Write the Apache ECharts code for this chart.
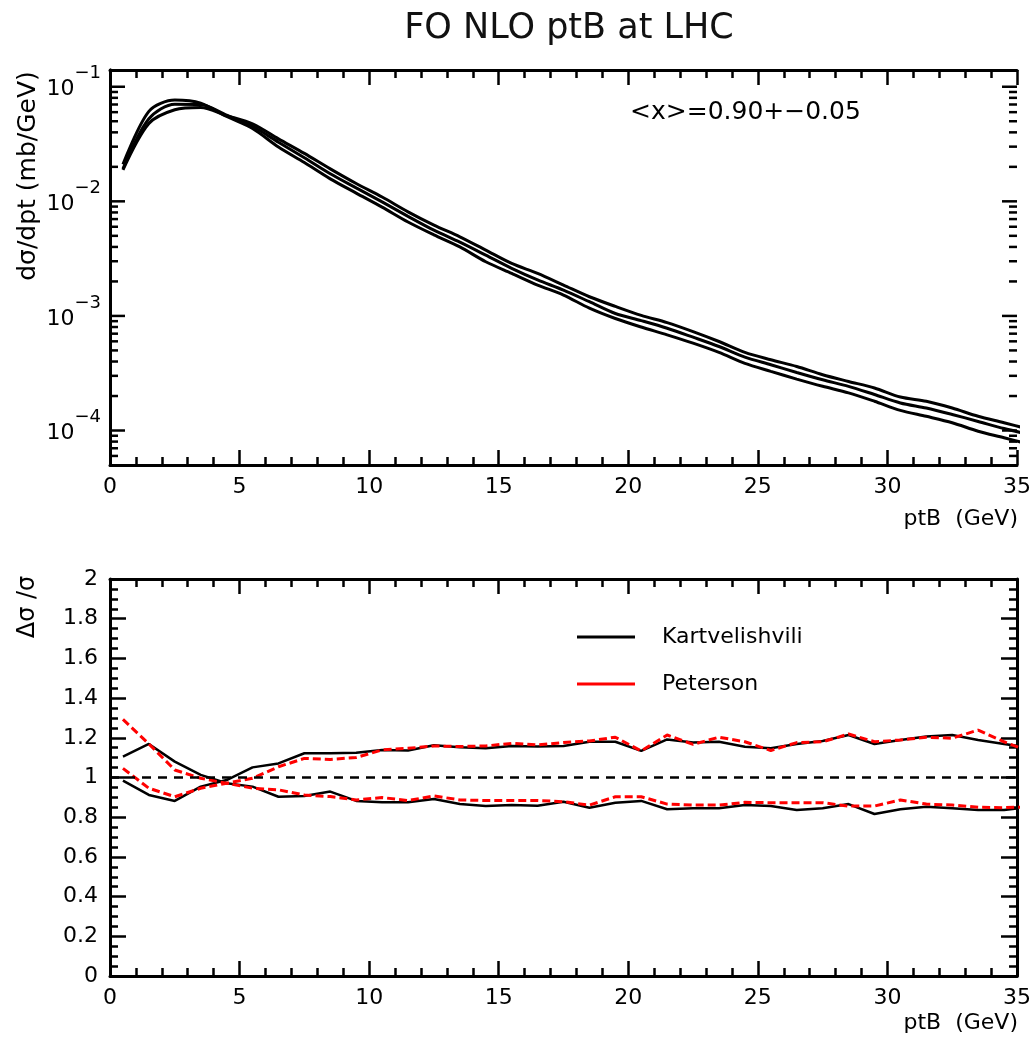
<!DOCTYPE html>
<html>
<head>
<meta charset="utf-8">
<script src="https://cdn.jsdelivr.net/npm/echarts@6/dist/echarts.min.js"></script>
<style>
  html, body { margin: 0; padding: 0; background: #fff; }
  #chart { width: 1034px; height: 1044px; }
</style>
</head>
<body>
<div id="chart"></div>
<script>
// bin centres in ptB (GeV)
const ptB = [0.5, 1.5, 2.5, 3.5, 4.5, 5.5, 6.5, 7.5, 8.5, 9.5, 10.5, 11.5, 12.5, 13.5, 14.5, 15.5, 16.5, 17.5,
  18.5, 19.5, 20.5, 21.5, 22.5, 23.5, 24.5, 25.5, 26.5, 27.5, 28.5, 29.5, 30.5, 31.5, 32.5, 33.5, 34.5, 35.5]

// dsigma/dpt (mb/GeV) for <x> = 0.85, 0.90, 0.95
const dsdptSoft = [0.0210, 0.0610, 0.0765, 0.0720, 0.0550, 0.0432, 0.0298, 0.0218, 0.0157, 0.0118, 0.0089, 0.0066,
  0.0051, 0.0040, 0.00297, 0.00235, 0.00186, 0.00152, 0.00117, 0.00095, 0.00080, 0.000684, 0.000578, 0.00048,
  0.000385, 0.000328, 0.000281, 0.000243, 0.000213, 0.00018, 0.000150, 0.000133, 0.000117, 0.0000986, 0.0000865, 0.0000755]
const dsdptCentral = [0.0192, 0.0525, 0.0705, 0.0700, 0.0565, 0.0452, 0.0328, 0.0240, 0.0174, 0.0131, 0.0099, 0.0074,
  0.0056, 0.0044, 0.00339, 0.00260, 0.00206, 0.00168, 0.00133, 0.00105, 0.00091, 0.000781, 0.000652, 0.000541,
  0.000437, 0.000375, 0.000321, 0.000277, 0.000243, 0.000206, 0.000174, 0.000157, 0.000138, 0.000120, 0.000104, 0.000092]
const dsdptHard = [0.0188, 0.0478, 0.0630, 0.0660, 0.0560, 0.0475, 0.0351, 0.0262, 0.0192, 0.0143, 0.0109, 0.0081,
  0.0062, 0.0049, 0.00375, 0.00287, 0.00235, 0.00186, 0.00147, 0.00121, 0.00101, 0.000875, 0.00073, 0.000598,
  0.00048, 0.000414, 0.000362, 0.000307, 0.000268, 0.000235, 0.000196, 0.00018, 0.000157, 0.000133, 0.000117, 0.000102]

// ratios to central
const ratioKartSoft = [1.105, 1.169, 1.080, 1.013, 0.971, 0.954, 0.903, 0.907, 0.929, 0.882, 0.875, 0.875, 0.892, 0.866,
  0.856, 0.861, 0.858, 0.878, 0.848, 0.873, 0.882, 0.840, 0.845, 0.845, 0.861, 0.856, 0.836, 0.845, 0.866, 0.816,
  0.840, 0.853, 0.845, 0.836, 0.836, 0.852]
const ratioKartHard = [0.984, 0.912, 0.882, 0.954, 0.987, 1.051, 1.071, 1.122, 1.122, 1.125, 1.139, 1.136, 1.162, 1.152,
  1.147, 1.159, 1.156, 1.159, 1.180, 1.180, 1.134, 1.192, 1.176, 1.180, 1.155, 1.147, 1.169, 1.184, 1.214, 1.169,
  1.189, 1.206, 1.214, 1.189, 1.169, 1.150]
const ratioPetSoft = [1.293, 1.169, 1.038, 0.996, 0.971, 0.946, 0.938, 0.912, 0.904, 0.887, 0.899, 0.884, 0.907, 0.887,
  0.884, 0.884, 0.884, 0.878, 0.861, 0.903, 0.903, 0.866, 0.861, 0.861, 0.875, 0.873, 0.873, 0.873, 0.856, 0.856,
  0.887, 0.866, 0.861, 0.850, 0.848, 0.852]
const ratioPetHard = [1.046, 0.946, 0.903, 0.946, 0.971, 0.996, 1.054, 1.096, 1.091, 1.101, 1.139, 1.147, 1.159, 1.156,
  1.159, 1.172, 1.164, 1.176, 1.184, 1.203, 1.134, 1.214, 1.167, 1.203, 1.180, 1.136, 1.176, 1.180, 1.219, 1.180,
  1.189, 1.203, 1.198, 1.239, 1.180, 1.130]

// log axis tick values
const logMajorTicks = [1e-4, 1e-3, 1e-2, 1e-1]
const logMinorTicks = [6e-5, 7e-5, 8e-5, 9e-5,
  2e-4, 3e-4, 4e-4, 5e-4, 6e-4, 7e-4, 8e-4, 9e-4,
  2e-3, 3e-3, 4e-3, 5e-3, 6e-3, 7e-3, 8e-3, 9e-3,
  2e-2, 3e-2, 4e-2, 5e-2, 6e-2, 7e-2, 8e-2, 9e-2]

const FONT = 'DejaVu Sans'
const pairs = (ys) => ptB.map((x, i) => [x, ys[i]])

const tickRenderer = (len) => (params, api) => {
  const y = api.coord([0, api.value(1)])[1]
  const cs = params.coordSys
  const st = { stroke: '#000', lineWidth: 2.5 }
  return {
    type: 'group',
    children: [
      { type: 'line', shape: { x1: cs.x, y1: y, x2: cs.x + len, y2: y }, style: st },
      { type: 'line', shape: { x1: cs.x + cs.width - len, y1: y, x2: cs.x + cs.width, y2: y }, style: st }
    ]
  }
}

const xAxisBase = (grid, pos, showLabel) => ({
  gridIndex: grid, type: 'value', position: pos, min: 0, max: 35, interval: 5,
  axisLine: { onZero: false, lineStyle: { color: '#000', width: 3 } },
  axisTick: { inside: true, length: 15, lineStyle: { color: '#000', width: 2.5 } },
  minorTick: { show: true, splitNumber: 5, length: 8, lineStyle: { color: '#000', width: 2.5 } },
  splitLine: { show: false },
  axisLabel: { show: showLabel, color: '#000', fontFamily: FONT, fontSize: 22, margin: 11 }
})

const logLabel = (v) => {
  const e = Math.log10(v)
  if (Math.abs(e - Math.round(e)) > 1e-6) return ''
  return '{b|10}{s|\u2212' + Math.abs(Math.round(e)) + '}'
}

const blackLine = { color: '#000', width: 3 }

const chart = echarts.init(document.getElementById('chart'))
const option = {
  animation: false,
  backgroundColor: '#fff',
  title: {
    text: 'FO NLO ptB at LHC', left: 564, top: 6, textAlign: 'center',
    textStyle: { fontFamily: FONT, fontSize: 35, fontWeight: 'normal', color: '#111' }
  },
  grid: [
    { left: 110, top: 70, width: 908, height: 395 },
    { left: 110, top: 579, width: 908, height: 397 }
  ],
  xAxis: [xAxisBase(0, 'bottom', true), xAxisBase(0, 'top', false), xAxisBase(1, 'bottom', true), xAxisBase(1, 'top', false)],
  yAxis: [
    {
      gridIndex: 0, type: 'log', logBase: 10, min: 5e-5, max: 0.14, position: 'left',
      axisLine: { lineStyle: { color: '#000', width: 3 } },
      axisTick: { show: false }, minorTick: { show: false }, splitLine: { show: false },
      axisLabel: {
        color: '#000', margin: 9, formatter: logLabel,
        rich: {
          b: { fontFamily: FONT, fontSize: 22, color: '#000', padding: [14, 0, 8, 0] },
          s: { fontFamily: FONT, fontSize: 18, color: '#000', verticalAlign: 'top' }
        }
      }
    },
    {
      gridIndex: 0, type: 'log', logBase: 10, min: 5e-5, max: 0.14, position: 'right',
      axisLine: { lineStyle: { color: '#000', width: 3 } },
      axisTick: { show: false }, minorTick: { show: false }, splitLine: { show: false }, axisLabel: { show: false }
    },
    {
      gridIndex: 1, type: 'value', min: 0, max: 2, interval: 0.2, position: 'left',
      axisLine: { onZero: false, lineStyle: { color: '#000', width: 3 } },
      axisTick: { inside: true, length: 16, lineStyle: { color: '#000', width: 2.5 } },
      minorTick: { show: true, splitNumber: 4, length: 8, lineStyle: { color: '#000', width: 2.5 } },
      splitLine: { show: false },
      axisLabel: { color: '#000', fontFamily: FONT, fontSize: 22, margin: 12 }
    },
    {
      gridIndex: 1, type: 'value', min: 0, max: 2, interval: 0.2, position: 'right',
      axisLine: { onZero: false, lineStyle: { color: '#000', width: 3 } },
      axisTick: { inside: true, length: 16, lineStyle: { color: '#000', width: 2.5 } },
      minorTick: { show: true, splitNumber: 4, length: 8, lineStyle: { color: '#000', width: 2.5 } },
      splitLine: { show: false }, axisLabel: { show: false }
    }
  ],
  legend: {
    orient: 'vertical', left: 572, top: 621, icon: 'rect', itemWidth: 58, itemHeight: 3, itemGap: 25,
    textStyle: { fontFamily: FONT, fontSize: 22, color: '#000', padding: [0, 0, 0, 22] },
    data: ['Kartvelishvili', 'Peterson']
  },
  graphic: [
    { type: 'text', x: 630, y: 100, style: { text: '<x>=0.90+\u22120.05', fontFamily: FONT, fontSize: 25, fill: '#000' } },
    { type: 'text', x: 28, y: 176, rotation: Math.PI / 2,
      style: { text: 'd\u03c3/dpt (mb/GeV)', fontFamily: FONT, fontSize: 25, fill: '#000', textAlign: 'center', textVerticalAlign: 'middle' } },
    { type: 'text', x: 28, y: 607, rotation: Math.PI / 2,
      style: { text: '\u0394\u03c3 /\u03c3', fontFamily: FONT, fontSize: 24, fill: '#000', textAlign: 'center', textVerticalAlign: 'middle' } },
    { type: 'text', x: 1018, y: 508, style: { text: 'ptB  (GeV)', fontFamily: FONT, fontSize: 22, fill: '#000', textAlign: 'right' } },
    { type: 'text', x: 1018, y: 1012, style: { text: 'ptB  (GeV)', fontFamily: FONT, fontSize: 22, fill: '#000', textAlign: 'right' } }
  ],
  series: [
    { name: '<x>=0.85', type: 'line', xAxisIndex: 0, yAxisIndex: 0, data: pairs(dsdptSoft), symbol: 'none', smooth: 0.3, lineStyle: blackLine },
    { name: '<x>=0.90', type: 'line', xAxisIndex: 0, yAxisIndex: 0, data: pairs(dsdptCentral), symbol: 'none', smooth: 0.3, lineStyle: blackLine },
    { name: '<x>=0.95', type: 'line', xAxisIndex: 0, yAxisIndex: 0, data: pairs(dsdptHard), symbol: 'none', smooth: 0.3, lineStyle: blackLine },
    { type: 'custom', xAxisIndex: 0, yAxisIndex: 0, data: logMajorTicks.map(v => [0, v]), renderItem: tickRenderer(15), silent: true, z: 5 },
    { type: 'custom', xAxisIndex: 0, yAxisIndex: 0, data: logMinorTicks.map(v => [0, v]), renderItem: tickRenderer(8), silent: true, z: 5 },
    {
      name: 'Kartvelishvili', type: 'line', xAxisIndex: 2, yAxisIndex: 2, data: pairs(ratioKartSoft), symbol: 'none',
      lineStyle: { color: '#000', width: 2.5 }, itemStyle: { color: '#000' },
      markLine: {
        silent: true, symbol: 'none', label: { show: false },
        lineStyle: { color: '#000', width: 2.5, type: [9, 7] },
        data: [{ yAxis: 1 }]
      }
    },
    { name: 'Kartvelishvili', type: 'line', xAxisIndex: 2, yAxisIndex: 2, data: pairs(ratioKartHard), symbol: 'none', lineStyle: { color: '#000', width: 2.5 }, itemStyle: { color: '#000' } },
    { name: 'Peterson', type: 'line', xAxisIndex: 2, yAxisIndex: 2, data: pairs(ratioPetSoft), symbol: 'none', lineStyle: { color: '#ff0000', width: 3, type: [8, 4] }, itemStyle: { color: '#ff0000' } },
    { name: 'Peterson', type: 'line', xAxisIndex: 2, yAxisIndex: 2, data: pairs(ratioPetHard), symbol: 'none', lineStyle: { color: '#ff0000', width: 3, type: [8, 4] }, itemStyle: { color: '#ff0000' } }
  ]
}
chart.setOption(option)
window.addEventListener('resize', () => chart.resize())
</script>
</body>
</html>
